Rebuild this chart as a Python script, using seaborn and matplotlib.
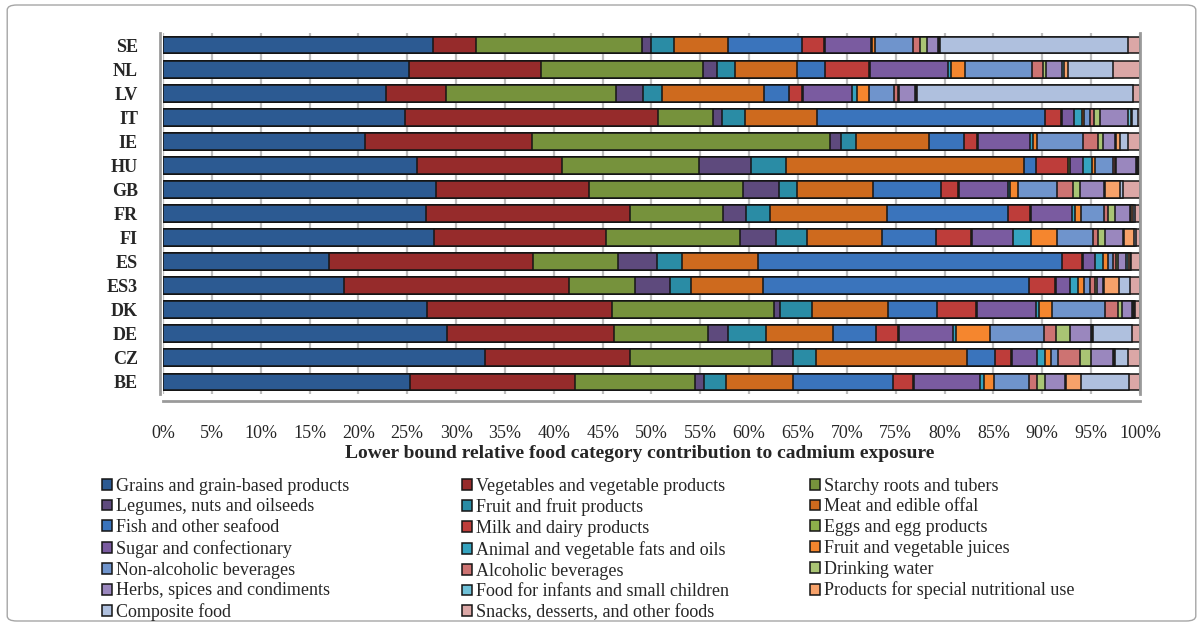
import numpy as np
import pandas as pd
import matplotlib
matplotlib.use("Agg")
import matplotlib.pyplot as plt
import seaborn as sns
from matplotlib.patches import FancyBboxPatch

# countries, top to bottom
countries = ["SE", "NL", "LV", "IT", "IE", "HU", "GB", "FR", "FI", "ES", "ES3", "DK", "DE", "CZ", "BE"]

categories = [
    "Grains and grain-based products", "Vegetables and vegetable products", "Starchy roots and tubers",
    "Legumes, nuts and oilseeds", "Fruit and fruit products", "Meat and edible offal",
    "Fish and other seafood", "Milk and dairy products", "Eggs and egg products",
    "Sugar and confectionary", "Animal and vegetable fats and oils", "Fruit and vegetable juices",
    "Non-alcoholic beverages", "Alcoholic beverages", "Drinking water",
    "Herbs, spices and condiments", "Food for infants and small children", "Products for special nutritional use",
    "Composite food", "Snacks, desserts, and other foods",
]

# contribution (%) per country, same order as countries
grains = [27.7, 25.2, 22.9, 24.8, 20.7, 26.1, 28.0, 26.9, 27.8, 17.0, 18.5, 27.0, 29.1, 33.0, 25.3]
vegetables = [4.4, 13.5, 6.1, 25.9, 17.1, 14.8, 15.6, 20.9, 17.6, 20.9, 22.9, 19.0, 17.1, 14.8, 17.0]
starchy = [17.0, 16.6, 17.5, 5.6, 30.5, 14.1, 15.8, 9.5, 13.7, 8.7, 6.8, 16.6, 9.6, 14.6, 12.3]
legumes = [0.9, 1.4, 2.7, 0.9, 1.2, 5.3, 3.7, 2.4, 3.7, 4.0, 3.5, 0.6, 2.1, 2.1, 0.9]
fruit = [2.35, 1.8, 2.0, 2.4, 1.5, 3.6, 1.9, 2.4, 3.2, 2.6, 2.2, 3.3, 3.9, 2.4, 2.2]
meat = [5.5, 6.4, 10.4, 7.3, 7.5, 24.4, 7.7, 12.0, 7.7, 7.8, 7.3, 7.8, 6.8, 15.5, 6.9]
fish = [7.6, 2.9, 2.6, 23.4, 3.6, 1.2, 7.0, 12.4, 5.5, 31.1, 27.2, 5.0, 4.5, 2.8, 10.3]
milk = [2.2, 4.5, 1.3, 1.6, 1.3, 3.3, 1.8, 2.2, 3.6, 2.1, 2.6, 4.0, 2.2, 1.7, 2.0]
eggs = [0.1, 0.1, 0.1, 0.1, 0.1, 0.2, 0.1, 0.1, 0.1, 0.1, 0.1, 0.1, 0.1, 0.1, 0.1]
sugar = [4.8, 7.9, 5.1, 1.2, 5.3, 1.4, 5.0, 4.2, 4.2, 1.2, 1.5, 6.0, 5.5, 2.6, 6.8]
fats = [0.1, 0.4, 0.5, 0.9, 0.3, 0.9, 0.2, 0.3, 1.8, 0.8, 0.8, 0.4, 0.4, 0.8, 0.4]
juices = [0.3, 1.4, 1.2, 0.2, 0.5, 0.3, 0.8, 0.7, 2.7, 0.5, 0.6, 1.3, 3.4, 0.6, 1.0]
non_alcoholic = [3.9, 6.8, 2.6, 0.6, 4.7, 1.8, 4.0, 2.3, 3.7, 0.5, 0.6, 5.4, 5.6, 0.7, 3.6]
alcoholic = [0.7, 1.2, 0.4, 0.4, 1.5, 0.2, 1.6, 0.4, 0.5, 0.3, 0.5, 1.3, 1.2, 2.3, 0.8]
water = [0.7, 0.3, 0.1, 0.6, 0.5, 0.1, 0.8, 0.7, 0.7, 0.2, 0.2, 0.5, 1.4, 1.1, 0.9]
herbs = [1.1, 1.6, 1.6, 2.9, 1.2, 2.1, 2.4, 1.6, 1.9, 0.9, 0.6, 1.0, 2.2, 2.2, 2.0]
infants = [0.1, 0.2, 0.1, 0.3, 0.1, 0.1, 0.1, 0.1, 0.1, 0.2, 0.1, 0.1, 0.1, 0.1, 0.1]
special = [0.1, 0.4, 0.1, 0.1, 0.5, 0.1, 1.6, 0.2, 1.0, 0.2, 1.6, 0.1, 0.1, 0.1, 1.6]
composite = [19.3, 4.6, 22.2, 0.6, 0.8, 0.1, 0.3, 0.2, 0.2, 0.1, 1.1, 0.1, 4.0, 1.4, 4.9]
snacks = [1.2, 2.8, 0.7, 0.2, 1.2, 0.1, 1.7, 0.5, 0.4, 0.9, 1.0, 0.5, 0.8, 1.2, 1.1]

colors = [
    "#2C5A92", "#962B2B", "#76923C", "#5E4A7D", "#2A8CA5", "#CE6A1E", "#3A74BC", "#BE3D3A",
    "#8DB04A", "#7A5BA0", "#35A3BF", "#F5862E", "#6F94CC", "#CD7372", "#A9C474", "#9A87BE",
    "#6FC1D8", "#F7A26A", "#AFC0DE", "#DBA7A6",
]

values = [grains, vegetables, starchy, legumes, fruit, meat, fish, milk, eggs, sugar, fats, juices,
          non_alcoholic, alcoholic, water, herbs, infants, special, composite, snacks]
df = pd.DataFrame(dict(zip(categories, values)), index=countries)
df = df.div(df.sum(axis=1), axis=0)
cum = df.cumsum(axis=1)
cum.index.name = "country"
cum = cum.reset_index()

sns.set_style("white")
plt.rcParams["font.family"] = ["Liberation Serif", "DejaVu Serif"]
plt.rcParams["xtick.labelsize"] = 13
plt.rcParams["ytick.labelsize"] = 13

fig = plt.figure(figsize=(12.03, 6.26), dpi=100)
ax = fig.add_axes([0.1355, 0.3706, 0.8121, 0.5767])

# stacked bars: draw the running totals from the widest down
handles = {}
for cat, col in reversed(list(zip(categories, colors))):
    sns.barplot(data=cum, x=cat, y="country", color=col, saturation=1, width=0.7,
                edgecolor="#151515", linewidth=1.1, errorbar=None, ax=ax)
    handles[cat] = ax.containers[-1]

ax.set_xlim(0, 1.0)
ax.set_ylim(14.5, -0.5)
ticks = np.arange(0, 1.001, 0.05)
ax.tick_params(axis="x", length=0, pad=17)
ax.tick_params(axis="y", length=4, color="#A0A0A0", width=1.2, pad=12, direction="out")
ax.set_xticks(ticks, labels=[f"{int(round(t * 100))}%" for t in ticks])
ax.set_yticks(range(len(countries)), labels=countries)
ax.set_ylabel("")
ax.set_xlabel("Lower bound relative food category contribution to cadmium exposure",
              fontsize=14, fontweight="bold")
ax.xaxis.set_label_coords(0.488, -0.142)

ax.xaxis.grid(True, color="#BDBDBD", linewidth=1.6)
ax.yaxis.grid(False)
ax.set_axisbelow(True)
ax.spines["top"].set_visible(False)
for s in ["left", "bottom", "right"]:
    ax.spines[s].set_color("#9A9A9A")
    ax.spines[s].set_linewidth(2)
ax.spines["bottom"].set_position(("outward", 5))
ax.spines["left"].set_position(("outward", 2))

# legend in three columns, row-major like the original
col_x = [0.0848, 0.384, 0.673]
for c in range(3):
    cats = categories[c::3]
    fig.legend([handles[k] for k in cats], cats, loc="upper left",
               bbox_to_anchor=(col_x[c], 0.237), frameon=False, fontsize=13,
               handlelength=0.55, handleheight=0.55, handletextpad=0.25,
               labelspacing=0.21, borderpad=0, borderaxespad=0)

fig.patches.append(FancyBboxPatch((0.006, 0.008), 0.988, 0.984,
                                  boxstyle="round,pad=0,rounding_size=0.008",
                                  transform=fig.transFigure, fill=False,
                                  edgecolor="#A6A6A6", linewidth=1))

# country names in bold, applied once the ticks exist
fig.canvas.draw()
for lab in ax.yaxis.get_majorticklabels():
    lab.set_fontweight("bold")
    lab.set_fontsize(13)

fig.savefig("out.png", dpi=100)
